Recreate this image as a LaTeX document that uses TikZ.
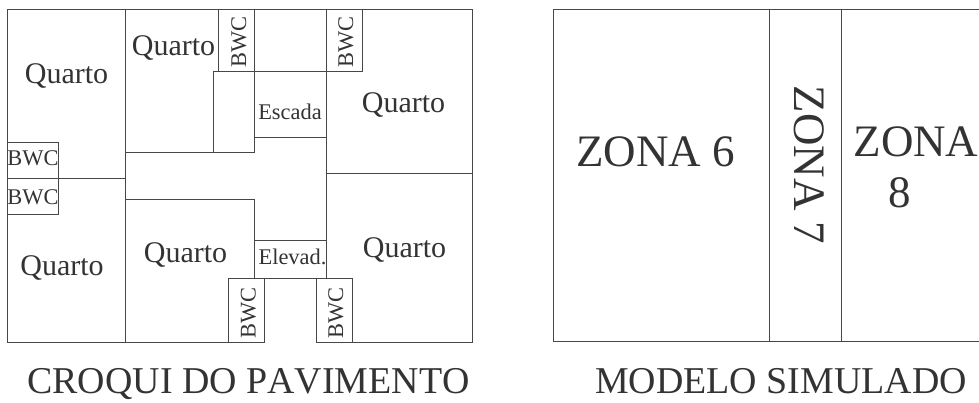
\documentclass[tikz,border=0pt]{standalone}
\usepackage{fontspec}
\setmainfont[Kerning=Off]{Liberation Serif}
\tikzset{
  wall/.style={draw=black!72,line width=0.9pt,line cap=rect,line join=miter},
  lbl/.style={anchor=base,inner sep=0pt,outer sep=0pt,text=black!80},
  room/.style={lbl,font=\fontsize{30}{30}\selectfont},
  small/.style={lbl,font=\fontsize{22.4}{22.4}\selectfont},
  zone/.style={lbl,font=\fontsize{45}{45}\selectfont},
  caption/.style={lbl,font=\fontsize{37.9}{37.9}\selectfont}
}
\begin{document}
\begin{tikzpicture}[x=1pt,y=-1pt]
\useasboundingbox (0,0) rectangle (979,403);
% floor outline
\draw[wall] (264.5,342) -- (7,342) -- (7,9.5) -- (472.7,9.5) -- (472.7,342) -- (316,342);
% left side
\draw[wall] (125.5,9.5) -- (125.5,342);
\draw[wall] (7,178) -- (125.5,178);
\draw[wall] (7,142) -- (58.5,142) -- (58.5,214) -- (7,214);
% upper middle
\draw[wall] (218.5,9.5) -- (218.5,71);
\draw[wall] (254,9.5) -- (254,152.5);
\draw[wall] (213,152.5) -- (213,71) -- (362,71) -- (362,9.5);
\draw[wall] (125.5,152.5) -- (254,152.5);
\draw[wall] (254,137) -- (326.5,137);
\draw[wall] (326.5,9.5) -- (326.5,278);
\draw[wall] (326.5,173) -- (472.7,173);
% lower middle
\draw[wall] (125.5,199) -- (254,199) -- (254,278);
\draw[wall] (254,240) -- (326.5,240);
\draw[wall] (228.5,342) -- (228.5,278) -- (352,278) -- (352,342);
\draw[wall] (264.5,278) -- (264.5,342);
\draw[wall] (316,278) -- (316,342);
% simulated model
\draw[wall] (979,9.5) -- (553.3,9.5) -- (553.3,341.7) -- (979,341.7);
\draw[wall] (769.5,9.5) -- (769.5,341.7);
\draw[wall] (841.5,9.5) -- (841.5,341.7);
% room labels
\node[room] (q1) at (66.5,84) {Quarto};
\node[room] (q2) at (173.5,56) {Quarto};
\node[room] (q3) at (403.5,113) {Quarto};
\node[room] (q4) at (62,276) {Quarto};
\node[room] (q5) at (185.5,262.7) {Quarto};
\node[room] (q6) at (404.5,257.7) {Quarto};
\node[small] (b1) at (33,166) {BWC};
\node[small] (b2) at (33,204.7) {BWC};
\node[small,rotate=90] (b3) at (246,42) {BWC};
\node[small,rotate=90] (b4) at (353,42) {BWC};
\node[small,rotate=90] (b5) at (255.7,313) {BWC};
\node[small,rotate=90] (b6) at (343,313) {BWC};
\node[small] (esc) at (290,119.3) {Escada};
\node[small] (ele) at (292.5,265) {Elevad.};
% zone labels
\node[zone] (z6) at (655.5,166.7) {ZONA 6};
\node[zone,rotate=-90] (z7) at (794,165) {ZONA 7};
\node[zone] (z8a) at (916,156.7) {ZONA};
\node[zone] (z8b) at (900,208) {8};
% captions
\node[caption] (c1) at (248.5,393.3) {CROQUI DO PAVIMENTO};
\node[caption] (c2) at (781,393.3) {MODELO SIMULADO};
\end{tikzpicture}
\end{document}
